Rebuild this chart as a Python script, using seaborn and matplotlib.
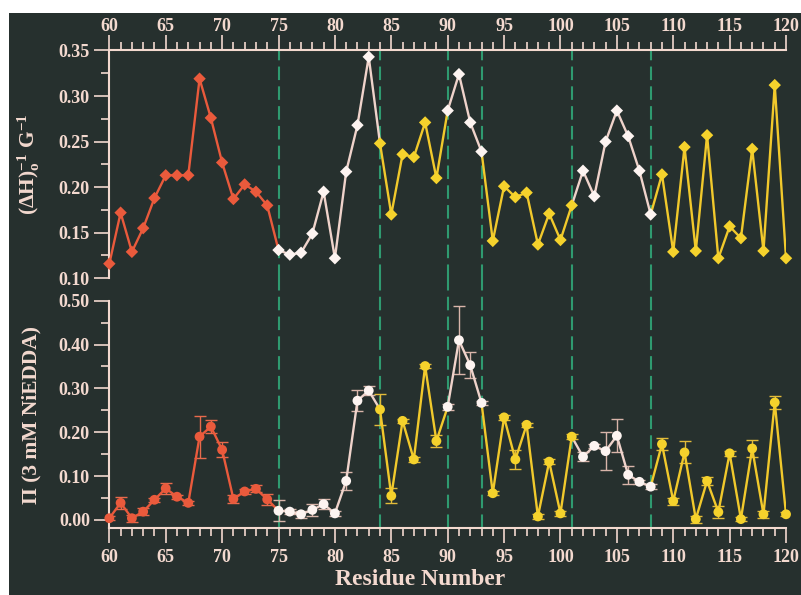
import matplotlib
matplotlib.use("Agg")
import matplotlib.pyplot as plt
from matplotlib.patches import Rectangle
from matplotlib.ticker import MultipleLocator, FormatStrFormatter
import pandas as pd
import seaborn as sns

# ── Data ───────────────────────────────────────────────
residues = list(range(60, 121))

dh_inv = [
    0.116, 0.172, 0.129, 0.155, 0.188, 0.213, 0.213, 0.213, 0.319, 0.276,
    0.227, 0.187, 0.203, 0.195, 0.180, 0.131, 0.126, 0.128, 0.149, 0.195,
    0.122, 0.217, 0.268, 0.343, 0.248, 0.170, 0.236, 0.233, 0.271, 0.210,
    0.284, 0.324, 0.271, 0.239, 0.141, 0.201, 0.189, 0.194, 0.137, 0.171,
    0.142, 0.180, 0.218, 0.190, 0.250, 0.284, 0.256, 0.218, 0.170, 0.214,
    0.129, 0.244, 0.130, 0.257, 0.122, 0.157, 0.144, 0.242, 0.130, 0.312,
    0.122,
]

pi_vals = [
    0.004, 0.039, 0.004, 0.019, 0.046, 0.072, 0.053, 0.039, 0.190, 0.213,
    0.160, 0.048, 0.065, 0.071, 0.047, 0.021, 0.019, 0.013, 0.023, 0.036,
    0.015, 0.089, 0.272, 0.295, 0.252, 0.055, 0.226, 0.138, 0.351, 0.180,
    0.258, 0.410, 0.353, 0.267, 0.061, 0.234, 0.138, 0.217, 0.008, 0.133,
    0.015, 0.190, 0.144, 0.169, 0.157, 0.192, 0.103, 0.087, 0.076, 0.173,
    0.043, 0.154, 0.002, 0.089, 0.018, 0.152, 0.002, 0.163, 0.013, 0.268,
    0.013,
]

pi_err = [
    0.005, 0.014, 0.008, 0.008, 0.005, 0.012, 0.005, 0.005, 0.048, 0.014,
    0.017, 0.010, 0.005, 0.008, 0.012, 0.024, 0.005, 0.008, 0.014, 0.012,
    0.005, 0.020, 0.024, 0.011, 0.035, 0.017, 0.005, 0.005, 0.005, 0.013,
    0.007, 0.077, 0.030, 0.005, 0.005, 0.005, 0.022, 0.005, 0.005, 0.005,
    0.005, 0.005, 0.010, 0.005, 0.044, 0.038, 0.020, 0.005, 0.005, 0.014,
    0.008, 0.025, 0.008, 0.010, 0.014, 0.005, 0.005, 0.019, 0.008, 0.014,
    0.005,
]

boundaries = [75, 84, 90, 93, 101, 108]

# residue ranges for marker colour, and for connecting line colour
marker_groups = [(60, 74, "red"), (75, 83, "white"), (84, 89, "yellow"),
                 (90, 93, "white"), (94, 101, "yellow"), (102, 108, "white"),
                 (109, 120, "yellow")]
line_segments = [(60, 75, "red"), (75, 84, "white"), (84, 90, "yellow"),
                 (90, 93, "white"), (93, 101, "yellow"), (101, 108, "white"),
                 (108, 120, "yellow")]

# ── Style ──────────────────────────────────────────────
BG = "#26302e"
FG = "#f3d9cf"
GREEN = "#2f9a70"
marker_pal = {"red": "#ea5a3c", "white": "#fdf4f1", "yellow": "#f5d22c"}
line_pal = {"red": "#ea5a3c", "white": "#efd3cb", "yellow": "#f1c92c"}
err_pal = {"red": "#e86a4c", "white": "#d9b5aa", "yellow": "#e2bb3a"}

sns.set_style("ticks", {
    "axes.facecolor": "none",
    "axes.edgecolor": FG,
    "xtick.color": FG,
    "ytick.color": FG,
    "text.color": FG,
    "axes.labelcolor": FG,
})
plt.rcParams["font.family"] = ["Liberation Serif", "DejaVu Serif"]
plt.rcParams["font.weight"] = "bold"
plt.rcParams["mathtext.fontset"] = "custom"
plt.rcParams["mathtext.rm"] = "Liberation Serif:bold"
plt.rcParams["mathtext.bf"] = "Liberation Serif:bold"
plt.rcParams["mathtext.it"] = "Liberation Serif:bold"


def group_of(r):
    for lo, hi, name in marker_groups:
        if lo <= r <= hi:
            return name


df = pd.DataFrame({"residue": residues, "dh_inv": dh_inv,
                   "pi": pi_vals, "pi_err": pi_err})
df["group"] = df["residue"].map(group_of)

fig = plt.figure(figsize=(8.01, 5.95), dpi=100, facecolor="white")
fig.patches.append(Rectangle((9 / 801, 0), 1 - 9 / 801, 582 / 595,
                             transform=fig.transFigure, facecolor=BG,
                             edgecolor="none", zorder=-1))

ax_top = fig.add_axes([0.1365, 0.5323, 0.8448, 0.3829])
ax_bot = fig.add_axes([0.1365, 0.1121, 0.8448, 0.3825])


def draw_series(ax, col, marker, size):
    for lo, hi, name in line_segments:
        sub = df[(df["residue"] >= lo) & (df["residue"] <= hi)]
        sns.lineplot(data=sub, x="residue", y=col, color=line_pal[name],
                     lw=1.7, ax=ax, legend=False, zorder=3)
    sns.scatterplot(data=df, x="residue", y=col, hue="group",
                    palette=marker_pal, marker=marker, s=size, linewidth=0,
                    ax=ax, legend=False, zorder=4, clip_on=False)


# ── Dashed region boundaries ───────────────────────────
for b in boundaries:
    ax_top.axvline(b, color=GREEN, lw=1.5, dashes=(6.5, 3), zorder=1)
    ax_bot.axvline(b, ymax=1.1, color=GREEN, lw=1.5, dashes=(6.5, 3),
                   zorder=1, clip_on=False)

# ── Top panel: inverse line width ──────────────────────
draw_series(ax_top, "dh_inv", "D", 40)

# ── Bottom panel: accessibility with error bars ────────
for name, sub in df.groupby("group"):
    ax_bot.errorbar(sub["residue"], sub["pi"], yerr=sub["pi_err"], fmt="none",
                    ecolor=err_pal[name], elinewidth=1, capsize=4,
                    capthick=1, zorder=2)
draw_series(ax_bot, "pi", "o", 50)

# ── Axes formatting ────────────────────────────────────
for ax in (ax_top, ax_bot):
    ax.set_xlim(60, 120)
    ax.xaxis.set_major_locator(MultipleLocator(5))
    ax.xaxis.set_minor_locator(MultipleLocator(1))
    ax.tick_params(which="major", length=11, width=1.2, direction="out")
    ax.tick_params(which="minor", length=6, width=1.2, direction="out")
    ax.tick_params(axis="x", labelsize=13)
    ax.tick_params(axis="y", labelsize=13, pad=3)
    ax.spines["right"].set_visible(False)
    for s in ax.spines.values():
        s.set_linewidth(1.5)
    ax.yaxis.set_major_formatter(FormatStrFormatter("%.2f"))
    for lab in ax.get_xticklabels() + ax.get_yticklabels():
        lab.set_fontweight("bold")

ax_top.set_ylim(0.10, 0.35)
ax_top.yaxis.set_major_locator(MultipleLocator(0.05))
ax_top.yaxis.set_minor_locator(MultipleLocator(0.025))
ax_top.spines["bottom"].set_visible(False)
ax_top.xaxis.tick_top()
ax_top.tick_params(axis="x", which="both", top=True, bottom=False,
                   labeltop=True, labelbottom=False, pad=0)
ax_top.set_xlabel("")
ax_top.set_ylabel(r"$\mathrm{(\Delta H)_o^{-1}\ G^{-1}}$", fontsize=15.5)
ax_top.yaxis.set_label_coords(-0.10, 0.5)

ax_bot.set_ylim(-0.019, 0.50)
ax_bot.yaxis.set_major_locator(MultipleLocator(0.1))
ax_bot.yaxis.set_minor_locator(MultipleLocator(0.05))
ax_bot.spines["top"].set_visible(False)
ax_bot.tick_params(axis="x", pad=4)
ax_bot.set_ylabel("Π (3 mM NiEDDA)", fontsize=15.5, fontweight="bold")
ax_bot.yaxis.set_label_coords(-0.10, 0.5)
ax_bot.set_xlabel("Residue Number", fontsize=17, fontweight="bold")
ax_bot.xaxis.set_label_coords(0.459, -0.18)

fig.savefig("out.png", dpi=100, facecolor="white")
